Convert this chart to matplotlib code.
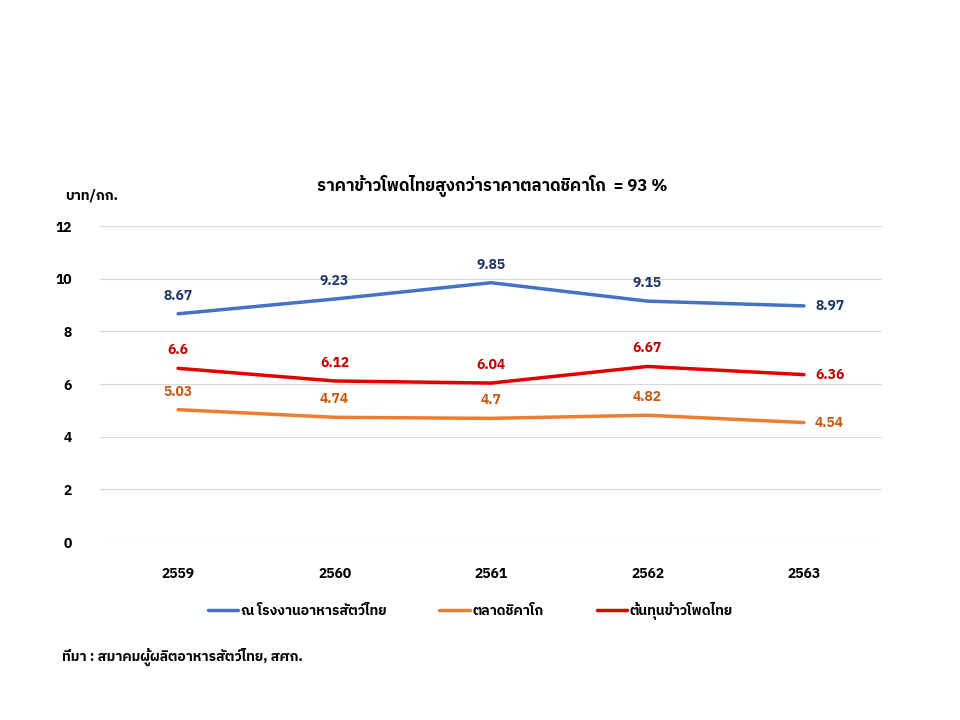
import matplotlib
matplotlib.use('Agg')
import matplotlib.pyplot as plt
from matplotlib import font_manager

years = ['2559', '2560', '2561', '2562', '2563']
feed_mill = [8.67, 9.23, 9.85, 9.15, 8.97]
chicago = [5.03, 4.74, 4.70, 4.82, 4.54]
thai_cost = [6.60, 6.12, 6.04, 6.67, 6.36]

names = ['ณ โรงงานอาหารสัตว์ไทย', 'ตลาดชิคาโก', 'ต้นทุนข้าวโพดไทย']
title = 'ราคาข้าวโพดไทยสูงกว่าราคาตลาดชิคาโก  = 93 %'
unit = 'บาท/กก.'
source = 'ที่มา : สมาคมผู้ผลิตอาหารสัตว์ไทย, สศก.'

# pick up whatever installed family has thai glyphs
thai_fonts = sorted(set(f.name for f in font_manager.fontManager.ttflist if 'Thai' in f.name))
plt.rcParams['font.family'] = thai_fonts + ['DejaVu Sans']

fig = plt.figure(figsize=(9.6, 7.2), dpi=100)
ax = fig.add_axes([0.104, 0.247, 0.815, 0.439])

x = list(range(len(years)))
series = [
    (feed_mill, '#4472C4', '#1F3864'),
    (chicago, '#ED7D31', '#C55A11'),
    (thai_cost, '#E00000', '#C00000'),
]
for (vals, lc, tc), name in zip(series, names):
    ax.plot(x, vals, color=lc, lw=2.5, label=name, solid_capstyle='round')
    for i, v in enumerate(vals):
        lab = ('%.2f' % v).rstrip('0').rstrip('.')
        if i == len(vals) - 1:
            ax.annotate(lab, (i, v), xytext=(8, 0), textcoords='offset points',
                        ha='left', va='center', color=tc, fontsize=10, fontweight='bold')
        else:
            ax.annotate(lab, (i, v), xytext=(0, 8), textcoords='offset points',
                        ha='center', va='bottom', color=tc, fontsize=10, fontweight='bold')

ax.set_xlim(-0.5, 4.5)
ax.set_ylim(0, 12)
ax.set_yticks(range(0, 13, 2))
ax.set_xticks(x)
ax.set_xticklabels(years)
ax.grid(axis='y', color='#D9D9D9', lw=0.8)
ax.set_axisbelow(True)
for s in ax.spines.values():
    s.set_visible(False)
ax.tick_params(length=0, labelsize=10)
for t in ax.get_xticklabels() + ax.get_yticklabels():
    t.set_fontweight('bold')
ax.tick_params(axis='x', pad=18)
ax.tick_params(axis='y', pad=20)

fig.text(0.513, 0.742, title, ha='center', va='center', fontsize=12, fontweight='bold')
fig.text(0.068, 0.728, unit, ha='left', va='center', fontsize=10, fontweight='bold')
fig.legend(loc='center', bbox_to_anchor=(0.49, 0.152), ncol=3, frameon=False,
           handlelength=2.2, columnspacing=3.8, handletextpad=0.2,
           prop={'weight': 'bold', 'size': 10})
fig.text(0.065, 0.087, source, ha='left', va='center', fontsize=10, fontweight='bold')

fig.savefig('out.png', dpi=100, facecolor='white')
